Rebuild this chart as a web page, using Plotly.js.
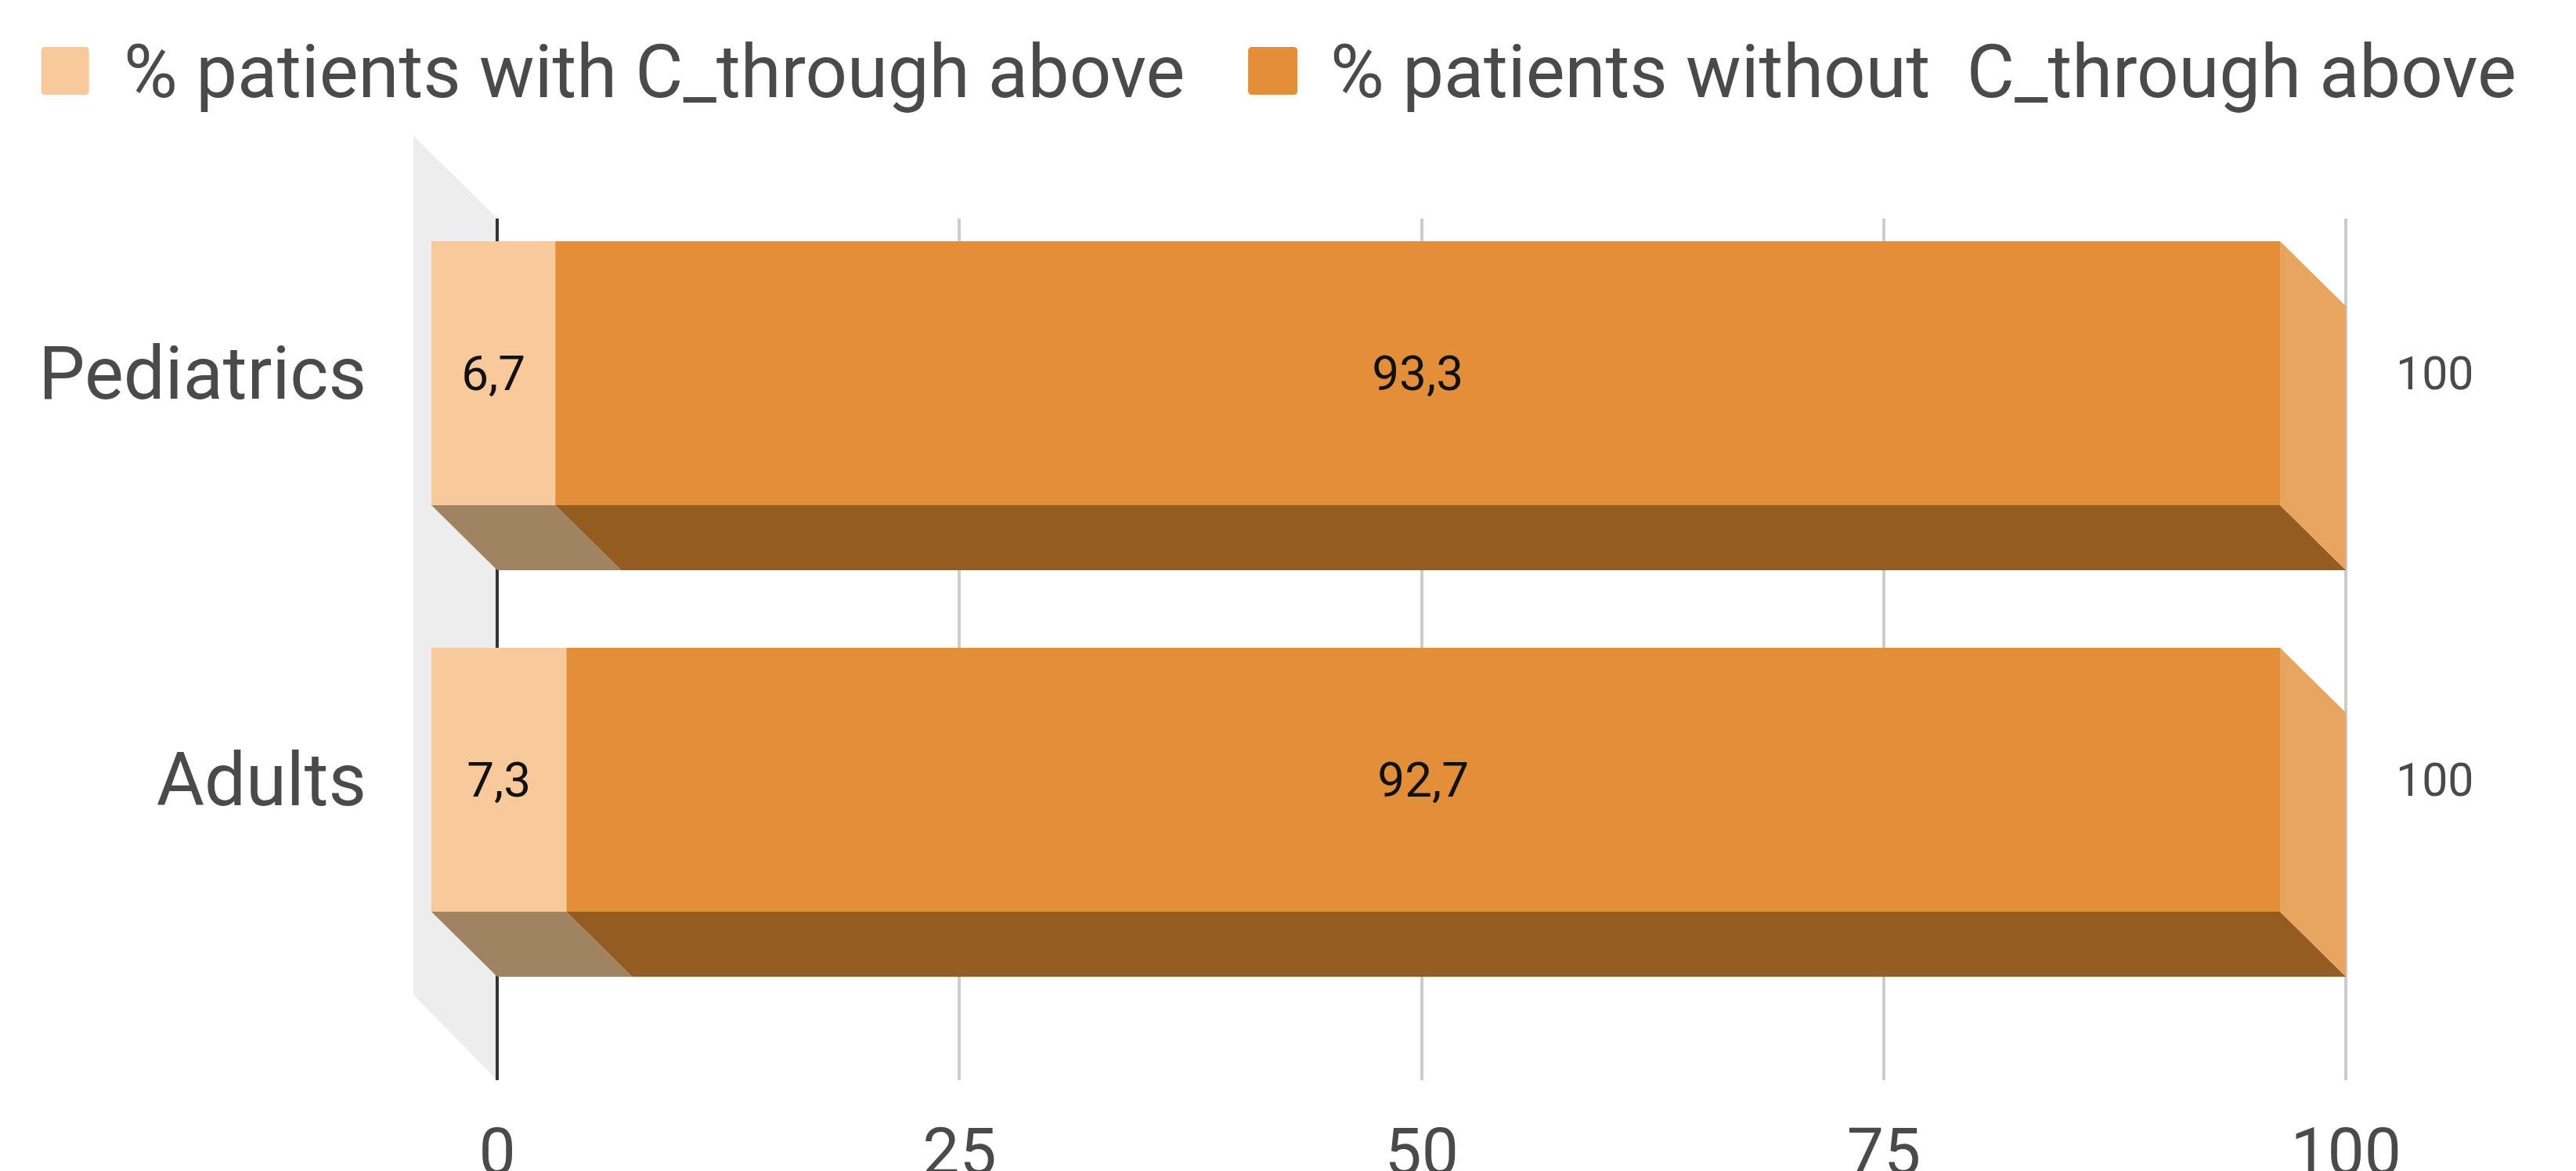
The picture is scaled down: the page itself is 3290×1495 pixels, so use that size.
<!DOCTYPE html>
<html><head><meta charset="utf-8">
<script src="https://cdn.plot.ly/plotly-3.0.1.min.js"></script>
<style>html,body{margin:0;padding:0;background:#fff;overflow:hidden}</style>
</head><body><div id="chart" style="width:3290px;height:1495px"></div>
<script>
const categories = ['Pediatrics', 'Adults'];
const rows = [1, 0];
const withAbove = [6.7, 7.3];
const withoutAbove = [93.3, 92.7];
const totals = [100, 100];
const xTicks = [0, 25, 50, 75, 100];
const legendNames = ['% patients with C_through above', '% patients without\u00a0 C_through above'];

const W = 3290, H = 1495;
const pxPerX = 23.62, x0Px = 634.7;
const plotL = 527.5, plotR = 3001.5, plotT = 279, plotB = 1379;
const rowPx = 519, row0Px = 995.5;
const depthX = 84.2 / pxPerX, depthY = 83 / rowPx, barH = 337 / rowPx;
const xRange = [(plotL - x0Px) / pxPerX, (plotR - x0Px) / pxPerX];
const yRange = [(row0Px - plotB) / rowPx, (row0Px - plotT) / rowPx];
const C = {peach:'#f7c99b', orange:'#e38f39', peachDark:'#a08462', orangeDark:'#955c22', side:'#e8a55f', wall:'#ededed', grid:'#cccccc', zero:'#333333', text:'#4a4a4a'};
const FONT = 'Roboto, sans-serif';
const comma = v => String(v).replace('.', ',');

function bar(name, vals, starts, color) {
  return {type:'bar', orientation:'h', name, y:rows, x:vals,
    base:starts.map(s => s - depthX), width:barH,
    marker:{color, line:{width:0}}, text:vals.map(comma), textposition:'inside',
    insidetextanchor:'middle', textangle:0, constraintext:'none',
    insidetextfont:{family:FONT, size:62, color:'#111111'}, showlegend:false, hoverinfo:'name+x'};
}
function poly(xs, ys, color) {
  return {type:'scatter', mode:'lines', x:xs, y:ys, fill:'toself', fillcolor:color,
    line:{width:0, color}, showlegend:false, hoverinfo:'skip'};
}
function bottomFaces(starts, vals, color) {
  const xs = [], ys = [];
  rows.forEach((r, i) => {
    const a = starts[i], b = a + vals[i], yb = r - barH / 2;
    xs.push(a - depthX, b - depthX, b, a, a - depthX, null);
    ys.push(yb, yb, yb - depthY, yb - depthY, yb, null);
  });
  return poly(xs, ys, color);
}
function sideFaces(color) {
  const xs = [], ys = [];
  rows.forEach((r, i) => {
    const t = totals[i], yt = r + barH / 2, yb = r - barH / 2;
    xs.push(t - depthX, t, t, t - depthX, t - depthX, null);
    ys.push(yt, yt - depthY, yb - depthY, yb, yt, null);
  });
  return poly(xs, ys, color);
}
const zeros = rows.map(() => 0);
const traces = [
  bar(legendNames[0], withAbove, zeros, C.peach),
  bar(legendNames[1], withoutAbove, withAbove, C.orange),
  bottomFaces(zeros, withAbove, C.peachDark),
  bottomFaces(withAbove, withoutAbove, C.orangeDark),
  sideFaces(C.side)
];

const py = p => 1 - (p - plotT) / (plotB - plotT);
const ppx = p => (p - plotL) / (plotR - plotL);
const wx = v => (v - x0Px) / pxPerX;
const wallPath = 'M' + wx(527.5) + ',' + py(173.5) + 'L0,' + py(plotT) + 'L0,' + py(plotB) + 'L' + wx(527.5) + ',' + py(1270) + 'Z';
function swatch(x1, x2, color) {
  const r = 5, t = 60, b = 121;
  const P = (x, y) => ppx(x) + ',' + py(y);
  const path = 'M' + P(x1 + r, t) + 'L' + P(x2 - r, t) + 'Q' + P(x2, t) + ' ' + P(x2, t + r) +
    'L' + P(x2, b - r) + 'Q' + P(x2, b) + ' ' + P(x2 - r, b) +
    'L' + P(x1 + r, b) + 'Q' + P(x1, b) + ' ' + P(x1, b - r) +
    'L' + P(x1, t + r) + 'Q' + P(x1, t) + ' ' + P(x1 + r, t) + 'Z';
  return {type:'path', xref:'paper', yref:'paper', layer:'above', path, fillcolor:color, line:{width:0}};
}
function legendText(text, xPx) {
  return {text, xref:'paper', yref:'paper', x:ppx(xPx), y:py(92),
    xanchor:'left', yanchor:'middle', showarrow:false, font:{family:FONT, size:94, color:C.text}};
}
const layout = {
  width:W, height:H, paper_bgcolor:'#ffffff', plot_bgcolor:'rgba(0,0,0,0)',
  margin:{l:plotL, r:W - plotR, t:plotT, b:H - plotB, pad:0, autoexpand:false},
  barmode:'overlay', showlegend:false, font:{family:FONT, color:C.text},
  xaxis:{range:xRange, tickmode:'array', tickvals:xTicks, ticktext:xTicks.map(String), ticks:'',
    showgrid:true, gridcolor:C.grid, gridwidth:4, zeroline:true, zerolinecolor:C.zero, zerolinewidth:4,
    showline:false, tickfont:{family:FONT, size:84, color:C.text}, ticklabelstandoff:35, automargin:false, fixedrange:true},
  yaxis:{range:yRange, tickmode:'array', tickvals:rows, ticktext:categories, ticks:'',
    showgrid:false, zeroline:false, showline:false, tickfont:{family:FONT, size:94, color:C.text},
    ticklabelstandoff:59, automargin:false, fixedrange:true},
  shapes:[
    {type:'path', xref:'x', yref:'paper', layer:'below', path:wallPath, fillcolor:C.wall, line:{width:0}},
    swatch(52, 113, C.peach), swatch(1594, 1657, C.orange)
  ],
  annotations:[
    legendText(legendNames[0], 155), legendText(legendNames[1], 1697)
  ].concat(rows.map((r, i) => ({text:String(totals[i]), x:totals[i], y:r, xref:'x', yref:'y', xshift:113,
    showarrow:false, xanchor:'center', yanchor:'middle', font:{family:FONT, size:59, color:C.text}})))
};
Plotly.newPlot('chart', traces, layout, {staticPlot:true, displayModeBar:false});
</script></body></html>
